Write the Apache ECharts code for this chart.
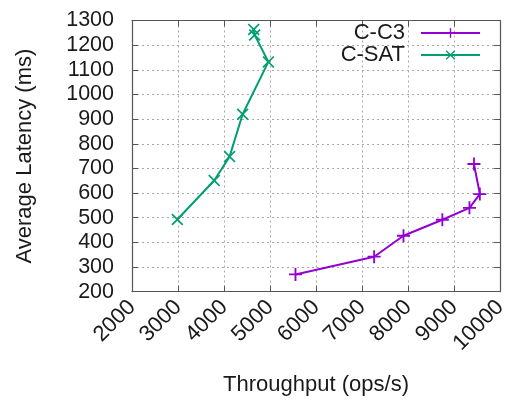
<!DOCTYPE html>
<html>
<head>
<meta charset="utf-8">
<script src="https://cdn.jsdelivr.net/npm/echarts@6/dist/echarts.min.js"></script>
<style>
  html, body { margin: 0; padding: 0; background: #ffffff; }
  #chart { width: 510px; height: 401px; }
</style>
</head>
<body>
<div id="chart"></div>
<script>
// Throughput (ops/s) and average latency (ms) per configuration
const satThroughput = [2985, 3787, 4121, 4404, 4964, 4666, 4645];
const satLatency    = [493, 651, 748, 920, 1132, 1241, 1264];
const c3Throughput  = [5553, 7262, 7900, 8745, 9334, 9560, 9432];
const c3Latency     = [270, 342, 427, 492, 540, 596, 718];

const seriesNames = ['C-C3', 'C-SAT'];
const xTicks = { min: 2000, max: 10000, step: 1000 };
const yTicks = { min: 200, max: 1300, step: 100 };

const FONT = 'Liberation Sans, Arial, sans-serif';
const PURPLE = '#9400d3';
const GREEN = '#009e73';

// Marker shapes: a plus and a diagonal cross, built as thin filled outlines
const plusPath = 'path://M5.15,0 H6.85 V5.15 H12 V6.85 H6.85 V12 H5.15 V6.85 H0 V5.15 H5.15 Z';
const crossPath = 'path://M0,1.2 L1.2,0 L6,4.8 L10.8,0 L12,1.2 L7.2,6 L12,10.8 L10.8,12 L6,7.2 L1.2,12 L0,10.8 L4.8,6 Z';

function pairs(xs, ys) {
  return xs.map((x, i) => [x, ys[i]]);
}
const plain = v => String(v);

const gridLine = { show: true, lineStyle: { color: '#a8a8a8', width: 1, type: [2, 3] } };
const frameLine = { show: true, lineStyle: { color: '#555555', width: 1.2 } };
const inTicks = { show: true, inside: true, length: 6, lineStyle: { color: '#555555', width: 1 } };

const chart = echarts.init(document.getElementById('chart'), null, { renderer: 'canvas' });

chart.setOption({
  animation: false,
  backgroundColor: '#ffffff',
  grid: { left: 132, right: 2, top: 20.5, bottom: 109.3, containLabel: false },
  legend: {
    orient: 'vertical',
    right: 29,
    top: 22,
    padding: 0,
    align: 'right',
    itemWidth: 59,
    itemHeight: 12,
    itemGap: 0,
    data: seriesNames,
    textStyle: { fontFamily: FONT, fontSize: 22, color: '#1a1a1a', lineHeight: 20, padding: [0, 11, 0, 0] }
  },
  xAxis: [
    {
      type: 'value',
      min: xTicks.min, max: xTicks.max, interval: xTicks.step,
      name: 'Throughput (ops/s)',
      nameLocation: 'middle',
      nameGap: 82,
      nameTextStyle: { fontFamily: FONT, fontSize: 22, color: '#1a1a1a' },
      axisLine: frameLine,
      axisTick: inTicks,
      splitLine: gridLine,
      axisLabel: { rotate: 45, margin: 12, fontFamily: FONT, fontSize: 22, color: '#1a1a1a', formatter: plain }
    },
    {
      type: 'value', position: 'top',
      min: xTicks.min, max: xTicks.max, interval: xTicks.step,
      axisLine: frameLine, axisTick: inTicks,
      axisLabel: { show: false }, splitLine: { show: false }
    }
  ],
  yAxis: [
    {
      type: 'value',
      min: yTicks.min, max: yTicks.max, interval: yTicks.step,
      name: 'Average Latency (ms)',
      nameLocation: 'middle',
      nameGap: 96,
      nameTextStyle: { fontFamily: FONT, fontSize: 22, color: '#1a1a1a' },
      axisLine: frameLine,
      axisTick: inTicks,
      splitLine: gridLine,
      axisLabel: { margin: 18, fontFamily: FONT, fontSize: 21.5, color: '#1a1a1a', formatter: plain }
    },
    {
      type: 'value', position: 'right',
      min: yTicks.min, max: yTicks.max, interval: yTicks.step,
      axisLine: frameLine, axisTick: inTicks,
      axisLabel: { show: false }, splitLine: { show: false }
    }
  ],
  series: [
    {
      name: seriesNames[0],
      type: 'line',
      data: pairs(c3Throughput, c3Latency),
      symbol: plusPath,
      symbolSize: 13,
      color: PURPLE,
      itemStyle: { color: PURPLE },
      lineStyle: { color: PURPLE, width: 2 }
    },
    {
      name: seriesNames[1],
      type: 'line',
      data: pairs(satThroughput, satLatency),
      symbol: crossPath,
      symbolSize: 12,
      color: GREEN,
      itemStyle: { color: GREEN },
      lineStyle: { color: GREEN, width: 2 }
    }
  ]
});
</script>
</body>
</html>
